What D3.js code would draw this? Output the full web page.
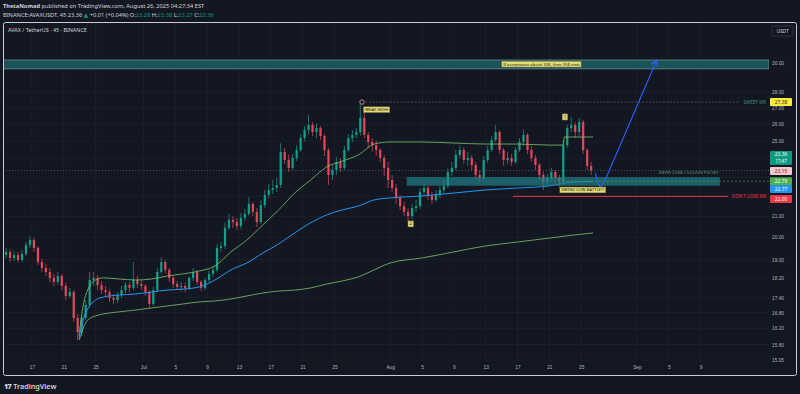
<!DOCTYPE html>
<html>
<head>
<meta charset="utf-8">
<script src="https://cdnjs.cloudflare.com/ajax/libs/d3/7.8.5/d3.min.js"></script>
<style>
  body { margin: 0; background: #131722; }
  svg { display: block; font-family: "Noto Sans", "DejaVu Sans", sans-serif; }
</style>
</head>
<body>
<svg width="800" height="394"></svg>
<script>
// 12h candles, first one starts Jun 13 00:00 UTC
var candleStart = "2025-06-13T00:00";
var firstOpen = 19.34;
var closes = [
  19.20, 19.34, 19.07, 19.20, 18.98, 19.25, 19.65, 19.88, 19.52, 18.89,
  18.63, 18.46, 18.21, 18.04, 18.29, 17.87, 17.46, 17.62, 16.59, 16.06,
  16.59, 17.10, 18.12, 18.21, 17.91, 17.70, 17.62, 17.38, 17.30, 17.50,
  17.70, 17.91, 17.79, 18.12, 17.95, 17.87, 17.62, 17.14, 17.70, 18.46,
  18.89, 18.55, 18.21, 17.95, 17.83, 17.87, 17.79, 18.21, 18.46, 18.04,
  17.79, 18.12, 18.38, 18.55, 19.52, 19.61, 20.45, 20.83, 20.73, 20.54,
  20.93, 21.12, 21.62, 21.22, 20.73, 21.56, 22.07, 22.33, 22.43, 22.59,
  24.39, 23.94, 23.50, 24.05, 24.50, 25.19, 25.66, 25.96, 25.54, 25.78,
  25.31, 24.50, 23.12, 23.39, 23.83, 23.50, 24.50, 25.19, 25.37, 25.54,
  26.39, 25.37, 24.96, 24.78, 24.50, 24.05, 23.50, 22.85, 22.43, 21.92,
  21.51, 21.22, 21.02, 21.41, 21.51, 22.23, 22.43, 22.02, 21.82, 22.12,
  22.33, 22.54, 23.28, 23.50, 24.22, 24.50, 23.94, 24.05, 23.66, 23.12,
  22.96, 23.94, 24.50, 25.07, 25.54, 24.50, 23.94, 24.05, 23.83, 24.50,
  24.96, 25.37, 24.50, 24.05, 23.66, 23.12, 22.75, 22.96, 23.28, 22.96,
  22.75, 24.78, 25.78, 25.96, 25.54, 26.14, 24.50, 23.61, 23.36
];
var highs = [
  19.47, 19.52, 19.43, 19.38, 19.34, 19.43, 19.79, 20.07, 19.97, 19.61,
  19.03, 18.81, 18.63, 18.38, 18.46, 18.38, 18.00, 17.79, 17.70, 16.75,
  16.71, 17.30, 18.46, 18.46, 18.33, 18.08, 17.87, 17.74, 17.54, 17.62,
  17.87, 18.04, 18.04, 18.89, 18.29, 18.12, 17.95, 17.70, 17.83, 18.63,
  19.11, 18.98, 18.63, 18.29, 18.08, 18.04, 18.00, 18.29, 18.63, 18.55,
  18.12, 18.21, 18.50, 18.72, 19.70, 19.79, 20.73, 21.12, 21.02, 20.93,
  21.17, 21.37, 21.97, 21.72, 21.41, 21.82, 22.33, 22.64, 22.85, 22.96,
  24.90, 24.61, 24.22, 24.27, 24.78, 25.42, 25.90, 26.57, 26.14, 26.02,
  25.90, 25.42, 24.61, 23.66, 24.10, 24.05, 24.73, 25.42, 25.66, 25.78,
  27.38, 26.76, 25.54, 25.19, 25.07, 24.61, 24.22, 23.83, 23.12, 22.64,
  22.07, 21.72, 21.41, 21.62, 21.82, 22.43, 22.64, 22.54, 22.23, 22.33,
  22.54, 22.85, 23.50, 23.83, 24.50, 24.78, 24.67, 24.39, 24.22, 23.83,
  23.39, 24.16, 24.73, 25.31, 25.96, 25.66, 24.61, 24.39, 24.27, 24.67,
  25.19, 25.66, 25.48, 24.73, 24.22, 23.77, 23.28, 23.18, 23.50, 23.39,
  23.12, 25.07, 25.96, 26.45, 26.14, 26.39, 26.26, 24.61, 23.83
];
var lows = [
  18.98, 19.07, 18.89, 18.94, 18.85, 18.89, 19.16, 19.52, 19.34, 18.76,
  18.46, 18.29, 18.04, 17.87, 17.91, 17.70, 17.30, 17.38, 16.44, 15.76,
  15.91, 16.51, 17.02, 17.87, 17.70, 17.54, 17.42, 17.22, 17.14, 17.18,
  17.38, 17.58, 17.62, 17.70, 17.79, 17.70, 17.46, 16.98, 17.06, 17.62,
  18.38, 18.38, 18.04, 17.79, 17.70, 17.66, 17.62, 17.70, 18.08, 17.91,
  17.66, 17.70, 18.00, 18.25, 18.46, 19.34, 19.47, 20.35, 20.45, 20.35,
  20.40, 20.78, 21.02, 21.02, 20.49, 20.64, 21.41, 21.92, 22.12, 22.23,
  22.43, 23.72, 23.28, 23.39, 23.88, 24.39, 25.01, 25.42, 25.31, 25.19,
  25.07, 24.16, 22.59, 22.85, 23.12, 23.28, 23.39, 24.39, 24.96, 25.19,
  25.31, 25.19, 24.61, 24.39, 24.16, 23.83, 23.07, 22.43, 22.23, 21.62,
  21.32, 21.02, 20.73, 20.88, 21.22, 21.37, 22.02, 21.82, 21.62, 21.72,
  21.92, 22.17, 22.43, 23.07, 23.39, 24.05, 23.72, 23.61, 23.39, 22.91,
  22.75, 22.85, 23.77, 24.39, 24.96, 24.27, 23.61, 23.72, 23.61, 23.72,
  24.39, 24.73, 24.27, 23.83, 23.39, 22.85, 22.33, 22.54, 22.75, 22.70,
  22.49, 22.59, 24.61, 25.54, 25.19, 25.31, 24.27, 23.39, 23.12
];

// anchored VWAP + bands (from the Jun 22 low)
var bandDates = ["2025-06-22T22:00", "2025-06-23T06:00", "2025-06-23T12:00", "2025-06-24T00:00",
  "2025-06-25T00:00", "2025-06-26T00:00", "2025-06-28T00:00", "2025-06-30T00:00", "2025-07-02T00:00",
  "2025-07-04T00:00", "2025-07-06T00:00", "2025-07-08T00:00", "2025-07-10T00:00", "2025-07-12T00:00",
  "2025-07-14T00:00", "2025-07-16T00:00", "2025-07-18T00:00", "2025-07-20T00:00", "2025-07-22T00:00",
  "2025-07-24T00:00", "2025-07-26T00:00", "2025-07-28T00:00", "2025-07-30T00:00", "2025-08-01T00:00",
  "2025-08-05T00:00", "2025-08-09T00:00", "2025-08-13T00:00", "2025-08-17T00:00", "2025-08-21T00:00",
  "2025-08-24T00:00", "2025-08-26T12:00"];
var vwap = [15.83, 16.28, 16.59, 16.94, 17.30, 17.42, 17.50, 17.54, 17.62, 17.70, 17.74, 17.83, 18.12,
  18.55, 18.85, 19.29, 19.70, 20.21, 20.69, 21.07, 21.32, 21.51, 21.82, 21.92, 22.02, 22.17, 22.33,
  22.43, 22.54, 22.75, 22.77];
var lowerBand = [15.76, 16.02, 16.25, 16.51, 16.67, 16.75, 16.83, 16.90, 16.98, 17.06, 17.14, 17.22,
  17.26, 17.34, 17.46, 17.58, 17.66, 17.70, 17.79, 17.95, 18.08, 18.25, 18.55, 18.85, 19.07, 19.34,
  19.61, 19.79, 19.97, 20.11, 20.21];
var upperDates = ["2025-06-22T22:00", "2025-06-23T06:00", "2025-06-23T12:00", "2025-06-24T00:00",
  "2025-06-25T00:00", "2025-06-26T00:00", "2025-06-28T00:00", "2025-06-30T00:00", "2025-07-02T00:00",
  "2025-07-04T00:00", "2025-07-06T00:00", "2025-07-08T00:00", "2025-07-10T00:00", "2025-07-12T00:00",
  "2025-07-14T00:00", "2025-07-16T00:00", "2025-07-18T00:00", "2025-07-20T00:00", "2025-07-22T00:00",
  "2025-07-24T00:00", "2025-07-26T00:00", "2025-07-28T00:00", "2025-07-30T00:00", "2025-08-01T00:00",
  "2025-08-05T00:00", "2025-08-09T00:00", "2025-08-13T00:00", "2025-08-17T00:00", "2025-08-21T00:00",
  "2025-08-22T18:00", "2025-08-22T21:00", "2025-08-26T12:00"];
var upperBand = [15.91, 16.71, 17.18, 17.70, 18.12, 18.21, 18.16, 18.12, 18.16, 18.29, 18.38, 18.50,
  18.72, 19.34, 19.88, 20.59, 21.32, 22.17, 22.85, 23.55, 23.88, 24.22, 24.84, 24.96, 24.96, 24.90,
  24.84, 24.84, 24.78, 24.78, 25.25, 25.25];

var priceTicks = [30, 28, 27, 26, 25, 24, 23, 22, 21, 20, 19, 18.2, 17.4, 16.8, 16.2, 15.6, 15.05];
var dateTicks = ["2025-06-17", "2025-06-21", "2025-06-25", "2025-07-01", "2025-07-05", "2025-07-09",
  "2025-07-13", "2025-07-17", "2025-07-21", "2025-07-25", "2025-08-01", "2025-08-05", "2025-08-09",
  "2025-08-13", "2025-08-17", "2025-08-21", "2025-08-25", "2025-09-01", "2025-09-05", "2025-09-09"];

// drawings
var targetZone = [29.57, 30.19];
var entryZone = [22.55, 23.01], entryFrom = "2025-08-03T02:00", entryTo = "2025-09-11T10:00";
var sweepLevel = 27.38, sweepFrom = "2025-07-28T11:00";
var dontLose = 22.00, dontLoseFrom = "2025-08-16T10:00";
var pocketLine = 22.79, pocketFrom = "2025-08-22T17:00";
var pathDates = ["2025-08-26T18:00", "2025-08-27T09:00", "2025-08-28T03:00", "2025-09-03T12:00"];
var pathPrices = [23.23, 22.43, 22.96, 30.19];
var lastPrice = 23.36;

var svg = d3.select("svg"),
    width = +svg.attr("width"),
    height = +svg.attr("height"),
    pL = 3, pR = 769, pT = 22, pB = 361;

var T = s => new Date(s.length > 10 ? s + "Z" : s + "T00:00Z");

var x = d3.scaleUtc()
    .domain([T("2025-06-13"), T("2025-09-14")])
    .range([0.1, 740.4]);
var y = d3.scaleLog()
    .domain([15.05, 30])
    .range([360, 62.7]);

svg.append("rect").attr("width", width).attr("height", height).attr("fill", "#131722");

// header
var hdr = svg.append("g").attr("font-size", 5.7).attr("fill", "#d1d4dc");
var h1 = hdr.append("text").attr("x", 3).attr("y", 8);
h1.append("tspan").attr("font-weight", "bold").text("ThetaNomad");
h1.append("tspan").text(" published on TradingView.com, August 26, 2025 04:27:34 EST");
var h2 = hdr.append("text").attr("x", 3).attr("y", 16.5);
h2.append("tspan").text("BINANCE:AVAXUSDT, 45  23.36 ");
h2.append("tspan").attr("fill", "#089981").text("▲");
h2.append("tspan").text(" +0.01 (+0.04%) O:");
h2.append("tspan").attr("fill", "#089981").text("23.28");
h2.append("tspan").text(" H:");
h2.append("tspan").attr("fill", "#089981").text("23.38");
h2.append("tspan").text(" L:");
h2.append("tspan").attr("fill", "#089981").text("23.27");
h2.append("tspan").text(" C:");
h2.append("tspan").attr("fill", "#089981").text("23.36");

svg.append("defs").append("clipPath").attr("id", "plotclip")
  .append("rect").attr("x", pL).attr("y", pT).attr("width", pR - pL).attr("height", pB - pT);

// grid
var grid = svg.append("g").attr("stroke", "#1e222c").attr("stroke-width", 0.8);
grid.selectAll(".vg").data(dateTicks).enter().append("line")
    .attr("x1", d => x(T(d))).attr("x2", d => x(T(d)))
    .attr("y1", pT).attr("y2", pB);
grid.selectAll(".hg").data(priceTicks).enter().append("line")
    .attr("x1", pL).attr("x2", pR)
    .attr("y1", d => y(d)).attr("y2", d => y(d));

var plot = svg.append("g").attr("clip-path", "url(#plotclip)");

// target zone
plot.append("rect")
    .attr("x", pL).attr("width", pR - pL)
    .attr("y", y(targetZone[1])).attr("height", y(targetZone[0]) - y(targetZone[1]))
    .attr("fill", "#1b5359").attr("stroke", "#7fa9ad").attr("stroke-width", 0.6);

// current price line
plot.append("line")
    .attr("x1", pL).attr("x2", pR).attr("y1", y(lastPrice)).attr("y2", y(lastPrice))
    .attr("stroke", "#787b86").attr("stroke-width", 0.6).attr("stroke-dasharray", "1,2");

// candles
var halfDay = 12 * 3600 * 1000, t0 = T(candleStart).getTime();
var candles = closes.map((c, i) => ({
    t: new Date(t0 + i * halfDay + halfDay / 2),
    o: i ? closes[i - 1] : firstOpen, h: highs[i], l: lows[i], c: c
}));
var up = "#12a08a", down = "#e5475c";
var cg = plot.selectAll(".candle").data(candles).enter().append("g");
cg.append("line")
    .attr("x1", d => x(d.t)).attr("x2", d => x(d.t))
    .attr("y1", d => y(d.h)).attr("y2", d => y(d.l))
    .attr("stroke", d => d.c >= d.o ? up : down).attr("stroke-width", 0.7);
cg.append("rect")
    .attr("x", d => x(d.t) - 1.1).attr("width", 2.2)
    .attr("y", d => y(Math.max(d.o, d.c)))
    .attr("height", d => Math.max(0.8, Math.abs(y(d.o) - y(d.c))))
    .attr("fill", d => d.c >= d.o ? up : down);

// vwap bands
var line = (dates, vals) => d3.line().curve(d3.curveMonotoneX)
    .x((d, i) => x(T(dates[i]))).y(d => y(d))(vals);
plot.append("path").attr("d", line(bandDates, lowerBand))
    .attr("fill", "none").attr("stroke", "#7cc46b").attr("stroke-width", 0.8);
plot.append("path").attr("d", line(upperDates, upperBand))
    .attr("fill", "none").attr("stroke", "#7cc46b").attr("stroke-width", 0.8);
plot.append("path").attr("d", line(bandDates, vwap))
    .attr("fill", "none").attr("stroke", "#2196f3").attr("stroke-width", 1);

// entry zone
plot.append("rect")
    .attr("x", x(T(entryFrom))).attr("width", x(T(entryTo)) - x(T(entryFrom)))
    .attr("y", y(entryZone[1])).attr("height", y(entryZone[0]) - y(entryZone[1]))
    .attr("fill", "#22868c").attr("fill-opacity", 0.65);
plot.append("text")
    .attr("x", x(T(entryTo)) - 1).attr("y", y(entryZone[1]) - 3)
    .attr("text-anchor", "end").attr("font-size", 4).attr("fill", "#5e9e6c")
    .text("ENTRY ZONE / GOLDEN POCKET");
plot.append("line")
    .attr("x1", x(T(pocketFrom))).attr("x2", pR)
    .attr("y1", y(pocketLine)).attr("y2", y(pocketLine))
    .attr("stroke", "#4caf50").attr("stroke-width", 0.6).attr("stroke-dasharray", "2,2");

// sweep level
plot.append("line")
    .attr("x1", x(T(sweepFrom))).attr("x2", 739)
    .attr("y1", y(sweepLevel)).attr("y2", y(sweepLevel))
    .attr("stroke", "#6a6d78").attr("stroke-width", 0.6).attr("stroke-dasharray", "2,1.5");
plot.append("text").attr("x", 766).attr("y", y(sweepLevel) + 1.5)
    .attr("text-anchor", "end").attr("font-size", 4.6).attr("fill", "#3e8f78").text("SWEEP ME");

// don't lose level
plot.append("line")
    .attr("x1", x(T(dontLoseFrom))).attr("x2", 728)
    .attr("y1", y(dontLose)).attr("y2", y(dontLose))
    .attr("stroke", "#f23645").attr("stroke-width", 1);
plot.append("text").attr("x", 766).attr("y", y(dontLose) + 1.6)
    .attr("text-anchor", "end").attr("font-size", 4.6).attr("fill", "#f23645").text("DON'T LOSE ME");

// projected path
var pts = pathDates.map((d, i) => [x(T(d)), y(pathPrices[i])]);
plot.append("path").attr("d", d3.line()(pts))
    .attr("fill", "none").attr("stroke", "#2962ff").attr("stroke-width", 1.1);
var a = pts[pts.length - 1], b = pts[pts.length - 2],
    ang = Math.atan2(a[1] - b[1], a[0] - b[0]);
[-0.5, 0.5].forEach(s => {
    plot.append("line")
        .attr("x1", a[0]).attr("y1", a[1])
        .attr("x2", a[0] - 7 * Math.cos(ang + s)).attr("y2", a[1] - 7 * Math.sin(ang + s))
        .attr("stroke", "#2962ff").attr("stroke-width", 1.1);
});

// yellow note tags
function tag(g, cx, cy, txt, fs, anchor) {
    var gg = g.append("g");
    var r = gg.append("rect");
    var t = gg.append("text").attr("font-size", fs).attr("fill", "#1b1b1b")
        .attr("dy", "0.35em").text(txt);
    var w = t.node().getComputedTextLength();
    var x0 = anchor === "start" ? cx : cx - w / 2;
    t.attr("x", x0).attr("y", cy);
    r.attr("x", x0 - 1.5).attr("y", cy - fs * 0.7).attr("width", w + 3).attr("height", fs * 1.4)
        .attr("fill", "#e4dc78").attr("stroke", "#6b6530").attr("stroke-width", 0.5);
}
var notes = svg.append("g");
tag(notes, x(T("2025-08-20T00:00")), y(29.9), "If acceptance above 30$, then 35$ next", 4.2);
tag(notes, x(T("2025-07-28T20:00")), y(26.9), "WEAK HIGH", 4.2, "start");
tag(notes, x(T("2025-08-22T12:00")), y(22.33), "SWING LOW BATTLE!!!", 4.2, "start");
tag(notes, x(T("2025-08-03T14:00")), y(20.64), "2", 4.4);
tag(notes, x(T("2025-08-22T23:00")), y(26.45), "1", 4.4);
notes.append("circle").attr("cx", x(T(sweepFrom))).attr("cy", y(sweepLevel)).attr("r", 2.2)
    .attr("fill", "#131722").attr("stroke", "#e8a0b0").attr("stroke-width", 0.8);

// frame and title
svg.append("rect").attr("x", 3.5).attr("y", 22.5).attr("width", 793).attr("height", 353).attr("rx", 2)
    .attr("fill", "none").attr("stroke", "#c9ccd4").attr("stroke-width", 1);
svg.append("text").attr("x", 8).attr("y", 32).attr("font-size", 5.4).attr("fill", "#d1d4dc")
    .text("AVAX / TetherUS · 45 · BINANCE");
svg.append("rect").attr("x", 772).attr("y", 26).attr("width", 21).attr("height", 10).attr("rx", 1.5)
    .attr("fill", "#131722").attr("stroke", "#434651").attr("stroke-width", 0.6);
svg.append("text").attr("x", 782.5).attr("y", 33).attr("text-anchor", "middle")
    .attr("font-size", 4.8).attr("fill", "#d1d4dc").text("USDT");

// price axis (labels under the coloured tags are left out)
var hidden = [24, 23, 22];
var yAxis = d3.axisRight(y).tickValues(priceTicks.filter(d => hidden.indexOf(d) < 0))
    .tickSize(0).tickPadding(0).tickFormat(d3.format(".2f"));
svg.append("g").attr("transform", "translate(772,0)").call(yAxis)
    .call(g => g.select(".domain").remove())
    .selectAll("text").attr("font-size", 4.8).attr("fill", "#b2b5be").attr("font-family", "inherit");

// time axis
var xAxis = d3.axisBottom(x).tickValues(dateTicks.map(T)).tickSize(0).tickPadding(0)
    .tickFormat(d => d.getUTCDate() === 1 ? d3.utcFormat("%b")(d) : d3.utcFormat("%-d")(d));
svg.append("g").attr("transform", "translate(0,366)").call(xAxis)
    .call(g => g.select(".domain").remove())
    .selectAll("text").attr("font-size", 4.8).attr("fill", "#b2b5be").attr("font-family", "inherit");

// price labels on the scale
var scaleTags = [
    { v: 27.38, bg: "#ffeb3b", fg: "#131722", dy: 0 },
    { v: 23.36, bg: "#089981", fg: "#ffffff", dy: -12.5, sub: "17:47" },
    { v: 23.15, bg: "#f7c6cd", fg: "#801922", dy: -3.3 },
    { v: 22.79, bg: "#4caf50", fg: "#ffffff", dy: 0 },
    { v: 22.77, bg: "#2196f3", fg: "#ffffff", dy: 7.5 },
    { v: 22.00, bg: "#f23645", fg: "#ffffff", dy: 2.6 }
];
var st = svg.append("g").selectAll("g").data(scaleTags).enter().append("g")
    .attr("transform", d => "translate(770," + (y(d.v) + d.dy) + ")");
st.append("rect").attr("x", 0).attr("width", 22)
    .attr("y", d => d.sub ? -7 : -4).attr("height", d => d.sub ? 14 : 8)
    .attr("rx", 1).attr("fill", d => d.bg);
st.append("text").attr("x", 11).attr("y", d => d.sub ? -1.6 : 1.7).attr("text-anchor", "middle")
    .attr("font-size", 4.8).attr("fill", d => d.fg).text(d => d.v.toFixed(2));
st.filter(d => d.sub).append("text").attr("x", 11).attr("y", 5).attr("text-anchor", "middle")
    .attr("font-size", 4.6).attr("fill", d => d.fg).text(d => d.sub);

// footer logo
var ft = svg.append("text").attr("x", 4).attr("y", 389).attr("font-size", 7.2).attr("fill", "#d1d4dc");
ft.append("tspan").attr("font-weight", "900").attr("letter-spacing", -0.6).text("17");
ft.append("tspan").attr("dx", 2).attr("font-weight", "600").text("TradingView");
</script>
</body>
</html>
